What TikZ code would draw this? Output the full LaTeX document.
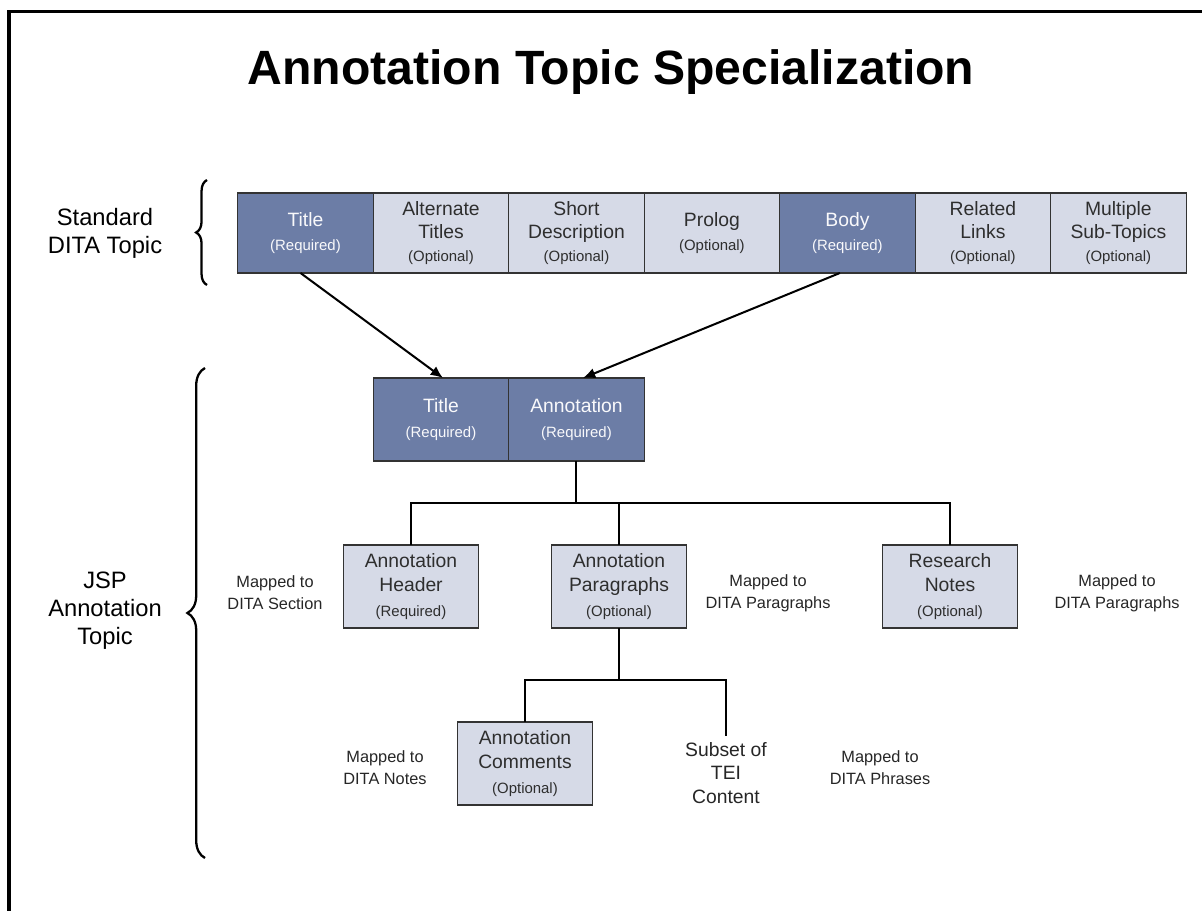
\documentclass[tikz,border=0pt]{standalone}
\usepackage{fontspec}
\setsansfont{Liberation Sans}
\usetikzlibrary{positioning, arrows.meta, decorations.pathreplacing}
\definecolor{topicblue}{RGB}{108,125,166}
\definecolor{topicgray}{RGB}{214,218,231}
\newcommand{\fillcolordark}{topicblue}
\newcommand{\fillcolorlight}{topicgray}
\newcommand{\boundarycolor}{black!80}
\newcommand{\tagsize}{\fontsize{8.5}{10}\selectfont}
\tikzset{bracedeco/.style=
	{decorate,decoration={brace,amplitude=#1}}}

\begin{document}
\begin{tikzpicture}[x=0.02cm,y=-0.02cm,font=\sffamily,
	box/.style={draw=\boundarycolor,line width=0.6pt,minimum width=2.71cm,minimum height=1.6cm,align=center,inner sep=2pt,outer sep=0pt,font=\sffamily\fontsize{11}{13.2}\selectfont},
	tall/.style={minimum height=1.66cm,font=\sffamily\fontsize{11}{14}\selectfont},
	req/.style={box,fill=\fillcolordark,text=white!85!topicgray},
	opt/.style={box,fill=\fillcolorlight,text=black!82},
	map/.style={align=center,font=\sffamily\fontsize{9.3}{12.5}\selectfont,text=black!85},
	side/.style={align=center,font=\sffamily\fontsize{13.5}{16}\selectfont},
	link/.style={line width=1.15pt}]
	\useasboundingbox (0,0) rectangle (1202,911);
	\draw[line width=2pt] (9,911) -- (9,11.5) -- (1202,11.5);
	%%
	\node[font=\sffamily\bfseries\fontsize{27.4}{32}\selectfont] (title) at (611,72) {Annotation Topic Specialization};
	%%
	\node[side] (std) at (105,233) {Standard\\DITA Topic};
	\node[side] (jsp) at (105,611) {JSP\\Annotation\\Topic};
	\draw[link, line width=1.3pt, bracedeco=6.2pt] (207,285) -- (207,180);
	\draw[link, line width=1.3pt, bracedeco=10pt] (205,858) -- (205,368);
	%%
	\node[req] (s1) at (305.5,233) {Title\\{\tagsize(Required)}};
	\node[opt, right=0pt of s1] (s2) {Alternate\\Titles\\{\tagsize(Optional)}};
	\node[opt, right=0pt of s2] (s3) {Short\\Description\\{\tagsize(Optional)}};
	\node[opt, right=0pt of s3] (s4) {Prolog\\{\tagsize(Optional)}};
	\node[req, right=0pt of s4] (s5) {Body\\{\tagsize(Required)}};
	\node[opt, right=0pt of s5] (s6) {Related\\Links\\{\tagsize(Optional)}};
	\node[opt, right=0pt of s6] (s7) {Multiple\\Sub-Topics\\{\tagsize(Optional)}};
	%%
	\node[req, tall] (j1) at (441,419.5) {Title\\{\tagsize(Required)}};
	\node[req, tall, right=0pt of j1] (j2) {Annotation\\{\tagsize(Required)}};
	%%
	\node[opt, tall] (h1) at (411,586.5) {Annotation\\Header\\{\tagsize(Required)}};
	\node[opt, tall] (h2) at (619,586.5) {Annotation\\Paragraphs\\{\tagsize(Optional)}};
	\node[opt, tall] (h3) at (950,586.5) {Research\\Notes\\{\tagsize(Optional)}};
	%%
	\node[opt, tall] (c1) at (525,763.5) {Annotation\\Comments\\{\tagsize(Optional)}};
	\node[align=center, font=\sffamily\fontsize{11}{13.3}\selectfont, text=black!85] (c2) at (726,773) {Subset of\\TEI\\Content};
	%%
	\node[map] (m1) at (275,593) {Mapped to\\DITA Section};
	\node[map] (m2) at (768,593) {Mapped to\\DITA Paragraphs};
	\node[map] (m3) at (1117,593) {Mapped to\\DITA Paragraphs};
	\node[map] (m4) at (385,768) {Mapped to\\DITA Notes};
	\node[map] (m5) at (880,768) {Mapped to\\DITA Phrases};
	%%
	\draw[link, -{Latex[length=7pt,width=6pt]}] ([xshift=-0.1cm]s1.south) -- ([xshift=0.04cm]j1.north);
	\draw[link, -{Latex[length=7pt,width=6pt]}] ([xshift=-0.15cm]s5.south) -- ([xshift=0.13cm]j2.north);
	%%
	\draw[link] (j2.south) -- ++(0,42) coordinate (fork1);
	\foreach \n in {h1,h2,h3} {
		\draw[link] (fork1) -| (\n.north);
	}
	\draw[link] (h2.south) -- ++(0,52) coordinate (fork2);
	\foreach \n in {c1,c2} {
		\draw[link] (fork2) -| (\n.north);
	}
\end{tikzpicture}
\end{document}
